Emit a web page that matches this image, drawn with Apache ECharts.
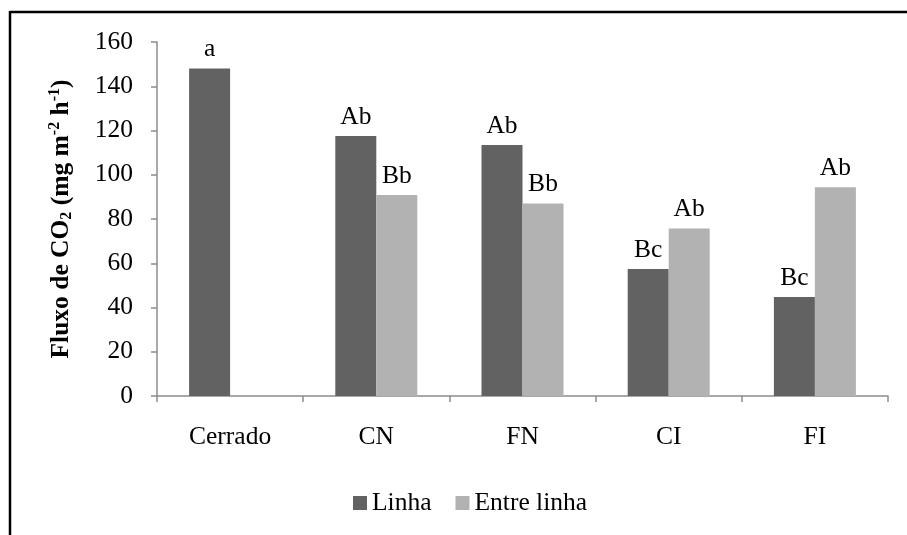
<!DOCTYPE html>
<html>
<head>
<meta charset="utf-8">
<title>Fluxo de CO2</title>
<script src="https://cdn.jsdelivr.net/npm/echarts@6/dist/echarts.min.js"></script>
<style>
  html, body { margin: 0; padding: 0; background: #fff; }
  #chart { width: 907px; height: 535px; }
</style>
</head>
<body>
<div id="chart"></div>
<script>
// Treatments on the x axis
const categories = ['Cerrado', 'CN', 'FN', 'CI', 'FI'];
// Mean CO2 flux (mg m-2 h-1) per position
const linha = [148, 117.5, 113.4, 57.4, 44.8];
const entreLinha = [null, 90.8, 87, 75.7, 94.3];
// Letters from the means comparison test
const linhaLetters = ['a', 'Ab', 'Ab', 'Bc', 'Bc'];
const entreLetters = ['', 'Bb', 'Bb', 'Ab', 'Ab'];
// Y axis range
const yMin = 0, yMax = 160, yStep = 20;

const serif = '"Liberation Serif", "Times New Roman", serif';
const axisGray = '#8c8c8c';
const fs = 25.5;

const chart = echarts.init(document.getElementById('chart'), null, { renderer: 'canvas' });

function letterLabel(letters) {
  return {
    show: true,
    position: 'top',
    distance: 6,
    fontFamily: serif,
    fontSize: fs,
    color: '#000',
    formatter: p => letters[p.dataIndex]
  };
}

chart.setOption({
  animation: false,
  backgroundColor: '#fff',
  textStyle: { fontFamily: serif },
  grid: { left: 157, right: 19, top: 42, bottom: 139, containLabel: false },
  legend: {
    bottom: 14,
    left: 348,
    itemWidth: 14,
    itemHeight: 14,
    itemGap: 24,
    icon: 'rect',
    textStyle: { fontFamily: serif, fontSize: fs, color: '#000' },
    data: ['Linha', 'Entre linha']
  },
  xAxis: {
    type: 'category',
    data: categories,
    axisLine: { lineStyle: { color: axisGray, width: 1.5 } },
    axisTick: { show: true, length: 6, lineStyle: { color: axisGray, width: 1.5 } },
    axisLabel: { fontFamily: serif, fontSize: fs, color: '#000', margin: 28 }
  },
  yAxis: {
    type: 'value',
    min: yMin,
    max: yMax,
    interval: yStep,
    splitLine: { show: false },
    axisLine: { show: true, lineStyle: { color: axisGray, width: 1.5 } },
    axisTick: { show: true, length: 6, lineStyle: { color: axisGray, width: 1.5 } },
    axisLabel: { fontFamily: serif, fontSize: fs, color: '#000', margin: 24 },
    name: 'Fluxo de CO{sub|2} (mg m{sup|-2} h{sup|-1})',
    nameLocation: 'middle',
    nameRotate: 90,
    nameGap: 82,
    nameTextStyle: {
      fontFamily: serif,
      fontSize: fs,
      fontWeight: 'bold',
      color: '#000',
      rich: {
        sub: { fontFamily: serif, fontSize: 16, fontWeight: 'bold', color: '#000', padding: [12, 0, 0, 0] },
        sup: { fontFamily: serif, fontSize: 16, fontWeight: 'bold', color: '#000', padding: [0, 0, 12, 0] }
      }
    }
  },
  series: [
    {
      name: 'Linha',
      type: 'bar',
      data: linha,
      barWidth: 41,
      barGap: '0%',
      itemStyle: { color: '#626262' },
      label: letterLabel(linhaLetters)
    },
    {
      name: 'Entre linha',
      type: 'bar',
      data: entreLinha,
      barWidth: 41,
      barGap: '0%',
      itemStyle: { color: '#b2b2b2' },
      label: letterLabel(entreLetters)
    }
  ],
  graphic: [
    // frame lines along the top and left edges
    { type: 'line', shape: { x1: 10, y1: 12, x2: 907, y2: 12 }, style: { stroke: '#000', lineWidth: 2.5 } },
    { type: 'line', shape: { x1: 10, y1: 11, x2: 10, y2: 535 }, style: { stroke: '#000', lineWidth: 2.5 } }
  ]
});
</script>
</body>
</html>
